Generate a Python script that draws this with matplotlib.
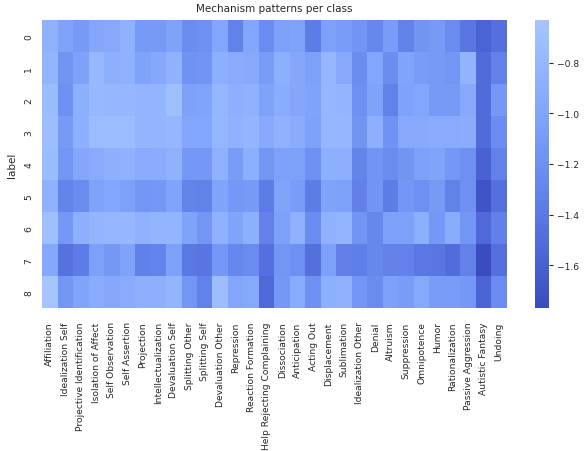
import matplotlib
matplotlib.use("Agg")
import matplotlib.pyplot as plt
import seaborn as sns
import numpy as np
import pandas as pd

mechanisms = ["Affiliation", "Idealization Self", "Projective Identification",
              "Isolation of Affect", "Self Observation", "Self Assertion", "Projection",
              "Intellectualization", "Devaluation Self", "Splitting Other", "Splitting Self",
              "Devaluation Other", "Repression", "Reaction Formation",
              "Help Rejecting Complaining", "Dissociation", "Anticipation", "Acting Out",
              "Displacement", "Sublimation", "Idealization Other", "Denial", "Altruism",
              "Suppression", "Omnipotence", "Humor", "Rationalization", "Passive Aggression",
              "Autistic Fantasy", "Undoing"]
classes = [0, 1, 2, 3, 4, 5, 6, 7, 8]

# mean scores per class
row0 = [-0.85, -1.02, -1.10, -0.98, -0.95, -0.86, -1.10, -1.10, -1.02, -1.22,
        -1.20, -0.99, -1.32, -0.99, -1.24, -1.05, -1.02, -1.38, -1.05, -1.08,
        -1.15, -1.28, -1.08, -1.32, -1.15, -1.10, -1.24, -1.42, -1.57, -1.48]
row1 = [-0.82, -1.15, -1.03, -0.78, -0.88, -0.86, -1.02, -0.96, -0.86, -1.16,
        -1.15, -0.88, -0.93, -0.95, -1.08, -0.88, -0.97, -1.04, -0.80, -0.95,
        -1.22, -0.99, -1.22, -1.00, -1.08, -1.10, -1.14, -0.84, -1.52, -1.32]
row2 = [-0.74, -1.20, -0.88, -0.78, -0.80, -0.80, -0.83, -0.83, -0.70, -1.03,
        -1.00, -0.80, -0.88, -0.86, -1.02, -0.92, -0.97, -1.01, -0.80, -0.82,
        -1.20, -1.02, -1.32, -1.02, -0.99, -1.10, -1.10, -0.95, -1.52, -1.12]
row3 = [-0.72, -1.10, -0.88, -0.74, -0.74, -0.74, -0.83, -0.82, -0.80, -0.99,
        -0.99, -0.80, -0.86, -0.83, -0.95, -0.86, -0.92, -1.03, -0.80, -0.80,
        -1.15, -0.88, -1.16, -0.95, -0.95, -0.93, -0.93, -0.92, -1.52, -1.22]
row4 = [-0.74, -1.14, -0.97, -0.93, -0.88, -0.87, -0.93, -0.92, -0.86, -1.12,
        -1.12, -0.86, -1.08, -0.88, -1.14, -1.05, -1.05, -1.20, -0.88, -0.88,
        -1.30, -1.15, -1.24, -1.15, -1.05, -1.00, -1.12, -1.20, -1.60, -1.32]
row5 = [-0.86, -1.30, -1.24, -1.02, -0.99, -1.05, -1.14, -1.12, -1.00, -1.30,
        -1.32, -1.00, -1.12, -1.10, -1.38, -1.00, -1.08, -1.38, -1.02, -1.04,
        -1.33, -1.15, -1.38, -1.14, -1.20, -1.10, -1.32, -1.20, -1.70, -1.47]
row6 = [-0.70, -1.12, -0.88, -0.83, -0.80, -0.80, -0.85, -0.83, -0.83, -1.02,
        -1.14, -0.86, -1.00, -0.88, -1.32, -1.04, -0.85, -1.24, -0.86, -0.82,
        -1.15, -1.28, -1.05, -1.05, -0.88, -1.12, -0.92, -1.14, -1.53, -1.33]
row7 = [-0.96, -1.45, -1.38, -1.04, -1.12, -1.02, -1.33, -1.30, -1.05, -1.40,
        -1.43, -1.12, -1.28, -1.24, -1.47, -1.14, -1.20, -1.47, -1.05, -1.33,
        -1.35, -1.28, -1.32, -1.32, -1.40, -1.42, -1.50, -1.32, -1.77, -1.47]
row8 = [-0.63, -1.14, -1.00, -0.93, -0.96, -0.93, -0.88, -0.88, -0.83, -1.14,
        -1.32, -0.72, -0.99, -0.95, -1.53, -1.12, -0.93, -1.20, -0.88, -0.86,
        -1.14, -1.24, -1.05, -1.08, -0.95, -1.08, -1.08, -1.12, -1.57, -1.24]

df = pd.DataFrame([row0, row1, row2, row3, row4, row5, row6, row7, row8],
                  index=pd.Index(classes, name="label"), columns=mechanisms)

sns.set_theme()
fig = plt.figure(figsize=(5.84, 4.52), dpi=100)
ax = fig.add_axes([0.072, 0.316, 0.796, 0.638])
cax = fig.add_axes([0.916, 0.316, 0.024, 0.638])

sns.heatmap(df, cmap="coolwarm", center=0, ax=ax, cbar_ax=cax,
            xticklabels=True, yticklabels=True)
ax.set_title("Mechanism patterns per class", fontsize=7.5)
ax.set_ylabel("label", fontsize=7.5, labelpad=5)
ax.set_xlabel("")
ax.tick_params(axis="both", labelsize=6.6)
ax.tick_params(axis="y", length=0, pad=6.5)
cax.tick_params(labelsize=6.6, length=3, width=0.8, pad=3)

fig.savefig("out.png", dpi=100)
